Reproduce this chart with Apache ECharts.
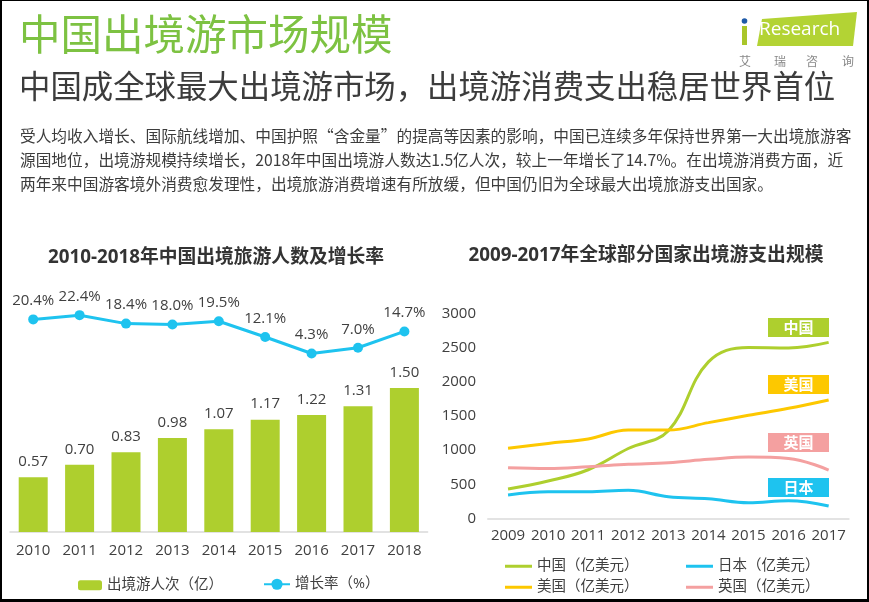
<!DOCTYPE html>
<html>
<head>
<meta charset="utf-8">
<script src="https://cdn.jsdelivr.net/npm/echarts@6/dist/echarts.min.js"></script>
<style>
html,body{margin:0;padding:0;background:#fff;}
#wrap{position:relative;width:869px;height:602px;}
#chart{position:absolute;left:0;top:0;width:869px;height:602px;}
#frame{position:absolute;left:0;top:0;width:869px;height:602px;box-sizing:border-box;border-style:solid;border-color:#000;border-width:1px 2px 3px 2px;pointer-events:none;}
</style>
</head>
<body>
<div id="wrap"><div id="chart"></div><div id="frame"></div></div>
<script>
// ---- data ----
const years1 = ['2010','2011','2012','2013','2014','2015','2016','2017','2018'];
const travellers = [0.57,0.70,0.83,0.98,1.07,1.17,1.22,1.31,1.50];
const growth = [20.4,22.4,18.4,18.0,19.5,12.1,4.3,7.0,14.7];

const years2 = ['2009','2010','2011','2012','2013','2014','2015','2016','2017'];
const china = [433,550,715,1025,1285,2290,2500,2495,2575];
const usa = [1028,1100,1165,1295,1295,1403,1510,1612,1734];
const uk = [745,735,760,794,818,867,900,880,711];
const japan = [346,392,394,414,321,292,234,263,185];
const yTicks2 = {min:0,max:3000,interval:500};

const FONT = "'Open Sans','Noto Sans CJK SC',sans-serif";
const CJK = "'Noto Sans CJK SC',sans-serif";
const TXT = '#404040';
const GREEN = '#aecf2e', CYAN = '#1ec3ef', YELLOW = '#fdc800', PINK = '#f4a0a0';

const chart = echarts.init(document.getElementById('chart'), null, {renderer:'canvas'});

const para = [
 '受人均收入增长、国际航线增加、中国护照“含金量”的提高等因素的影响，中国已连续多年保持世界第一大出境旅游客',
 '源国地位，出境游规模持续增长，2018年中国出境游人数达1.5亿人次，较上一年增长了14.7%。在出境游消费方面，近',
 '两年来中国游客境外消费愈发理性，出境旅游消费增速有所放缓，但中国仍旧为全球最大出境旅游支出国家。'
];

const tags = [
  {name:'中国', color:GREEN, y:318},
  {name:'美国', color:YELLOW, y:375},
  {name:'英国', color:PINK, y:433},
  {name:'日本', color:CYAN, y:478}
];

const graphics = [
  {type:'text', left:19, top:13, style:{text:'中国出境游市场规模', fill:'#7dc242', font:'41.5px '+CJK}},
  {type:'text', left:19, top:70, style:{text:'中国成全球最大出境游市场，出境游消费支出稳居世界首位', fill:'#3c3c3c', font:'31.4px '+CJK}},
  {type:'text', left:20, top:124, style:{text:para.join('\n'), fill:'#3c3c3c', font:'15.7px '+CJK, lineHeight:24}},
  // logo
  {type:'polygon', shape:{points:[[762,19],[857,12],[853,46],[757,46]]}, style:{fill:'#b3d334'}},
  {type:'rect', shape:{x:742,y:26,width:5,height:19}, style:{fill:'#a9c62a'}},
  {type:'circle', shape:{cx:744.5,cy:21,r:2.8}, style:{fill:'#1e5aa8'}},
  {type:'text', left:759, top:20, style:{text:'Research', fill:'#fff', font:'19px '+FONT}},
  {type:'text', x:745, y:61, style:{text:'艾', fill:'#888', font:'12px '+CJK, align:'center', verticalAlign:'middle'}},
  {type:'text', x:780, y:61, style:{text:'瑞', fill:'#888', font:'12px '+CJK, align:'center', verticalAlign:'middle'}},
  {type:'text', x:812, y:61, style:{text:'咨', fill:'#888', font:'12px '+CJK, align:'center', verticalAlign:'middle'}},
  {type:'text', x:848, y:61, style:{text:'询', fill:'#888', font:'12px '+CJK, align:'center', verticalAlign:'middle'}},
  // chart titles
  {type:'text', x:216, y:258, style:{text:'2010-2018年中国出境旅游人数及增长率', fill:'#333', font:'bold 18.8px '+FONT, align:'center', verticalAlign:'middle'}},
  {type:'text', x:646, y:256, style:{text:'2009-2017年全球部分国家出境游支出规模', fill:'#333', font:'bold 18.8px '+FONT, align:'center', verticalAlign:'middle'}}
];
tags.forEach(t=>{
  graphics.push({type:'rect', shape:{x:768,y:t.y,width:61,height:19}, style:{fill:t.color}});
  graphics.push({type:'text', x:798.5, y:t.y+9.5, style:{text:t.name, fill:'#fff', font:'bold 15px '+CJK, align:'center', verticalAlign:'middle'}});
});

const lgText = {color:TXT, fontSize:14.5, fontFamily:FONT};
const lineLegend = (name, left, top) => ({data:[name], left:left, top:top, icon:'rect', itemWidth:27, itemHeight:3, itemGap:4, textStyle:lgText});

const option = {
  animation:false,
  textStyle:{fontFamily:FONT},
  graphic:graphics,
  grid:[
    {left:10, width:417.6, top:244, height:288},
    {left:488, width:360.7, top:313.3, height:205.4}
  ],
  legend:[
    {data:['出境游人次（亿）'], left:73, top:573, itemWidth:24, itemHeight:10, itemGap:4, textStyle:lgText},
    {data:['增长率（%）'], left:258, top:572, itemWidth:26, itemHeight:14, itemGap:4, textStyle:lgText},
    lineLegend('中国（亿美元）', 500, 554),
    lineLegend('日本（亿美元）', 681, 554),
    lineLegend('美国（亿美元）', 500, 575),
    lineLegend('英国（亿美元）', 681, 575)
  ],
  xAxis:[
    {type:'category', gridIndex:0, data:years1, axisTick:{show:false},
     axisLine:{lineStyle:{color:'#d9d9d9', width:1.5}},
     axisLabel:{color:TXT, fontSize:15, margin:11, interval:0}},
    {type:'category', gridIndex:1, data:years2, axisTick:{show:false},
     axisLine:{lineStyle:{color:'#e3e3e3', width:2}},
     axisLabel:{color:TXT, fontSize:15, margin:10, interval:0}}
  ],
  yAxis:[
    {type:'value', gridIndex:0, min:0, max:3, show:false},
    {type:'value', gridIndex:0, min:-80, max:56, show:false},
    {type:'value', gridIndex:1, min:yTicks2.min, max:yTicks2.max, interval:yTicks2.interval,
     splitLine:{show:false}, axisLine:{show:false}, axisTick:{show:false},
     axisLabel:{color:TXT, fontSize:15, margin:12, formatter:v=>String(v)}}
  ],
  series:[
    {name:'出境游人次（亿）', type:'bar', xAxisIndex:0, yAxisIndex:0, data:travellers, barWidth:29,
     itemStyle:{color:GREEN},
     label:{show:true, position:'top', distance:8, color:TXT, fontSize:15, formatter:p=>p.value.toFixed(2)}},
    {name:'增长率（%）', type:'line', xAxisIndex:0, yAxisIndex:1, data:growth,
     symbol:'circle', symbolSize:10, lineStyle:{color:CYAN, width:3}, itemStyle:{color:CYAN},
     label:{show:true, position:'top', distance:6, color:TXT, fontSize:15, formatter:p=>p.value.toFixed(1)+'%'}},
    {name:'中国（亿美元）', type:'line', xAxisIndex:1, yAxisIndex:2, data:china, smooth:0.4, symbol:'none',
     lineStyle:{color:GREEN, width:3}, itemStyle:{color:GREEN}},
    {name:'日本（亿美元）', type:'line', xAxisIndex:1, yAxisIndex:2, data:japan, smooth:0.4, symbol:'none',
     lineStyle:{color:CYAN, width:3}, itemStyle:{color:CYAN}},
    {name:'美国（亿美元）', type:'line', xAxisIndex:1, yAxisIndex:2, data:usa, smooth:0.4, symbol:'none',
     lineStyle:{color:YELLOW, width:3}, itemStyle:{color:YELLOW}},
    {name:'英国（亿美元）', type:'line', xAxisIndex:1, yAxisIndex:2, data:uk, smooth:0.4, symbol:'none',
     lineStyle:{color:PINK, width:3}, itemStyle:{color:PINK}}
  ]
};
chart.setOption(option);
</script>
</body>
</html>
